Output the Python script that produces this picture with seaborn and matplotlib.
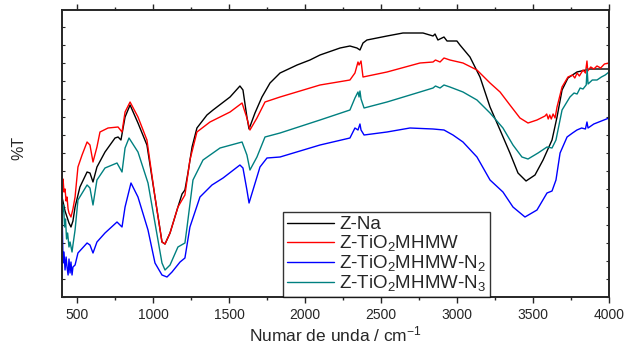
import matplotlib
matplotlib.use("Agg")
import matplotlib.pyplot as plt
from matplotlib.ticker import MultipleLocator
import numpy as np
import pandas as pd
import seaborn as sns

# FTIR spectra, wavenumber (cm-1) and transmittance (arbitrary units, offset stack)
zna_wn = [400, 420, 446, 459, 472, 486, 518, 565, 584, 604, 630, 683, 749, 769, 788,
          815, 848, 900, 959, 1012, 1058, 1078, 1111, 1163, 1190, 1209, 1230, 1256, 1288,
          1354, 1394, 1506, 1571, 1591, 1617, 1631, 1670, 1716, 1769, 1835, 1947, 2032,
          2098, 2230, 2295, 2341, 2361, 2381, 2407, 2539, 2644, 2776, 2842, 2855, 2874,
          2914, 2934, 2999, 3019, 3085, 3151, 3217, 3283, 3348, 3401, 3454, 3513, 3566,
          3625, 3658, 3691, 3730, 3789, 3875, 4000]
zna_t = [100, 86, 74, 70, 76, 90, 110, 125, 124, 115, 130, 145, 159, 160, 157,
         180, 192, 174, 152, 100, 55, 53, 64, 90, 103, 107, 125, 150, 169,
         182, 187, 200, 211, 207, 180, 168, 184, 200, 214, 224, 232, 237,
         242, 249, 251, 249, 247, 254, 257, 261, 264, 264, 261, 263, 257,
         260, 256, 256, 252, 240, 220, 190, 167, 144, 124, 116, 122, 137,
         157, 180, 207, 219, 225, 228, 228]

mhmw_wn = [400, 402, 407, 413, 420, 427, 433, 440, 446, 459, 472, 486, 505, 532, 565,
           584, 604, 630, 650, 703, 769, 795, 815, 848, 900, 959, 1012, 1058, 1078,
           1111, 1163, 1209, 1242, 1288, 1374, 1506, 1585, 1617, 1637, 1683, 1736,
           1835, 2098, 2295, 2328, 2348, 2355, 2368, 2381, 2539, 2756, 2842, 2858,
           2888, 2914, 2953, 3039, 3131, 3217, 3283, 3348, 3414, 3467, 3526, 3579,
           3590, 3600, 3610, 3620, 3632, 3645, 3658, 3691, 3730, 3760, 3775, 3790,
           3805, 3829, 3845, 3855, 3860, 3880, 3900, 3921, 3945, 3970, 4000]
mhmw_t = [159, 114, 118, 105, 108, 96, 100, 88, 84, 80, 88, 100, 130, 142, 155,
          152, 135, 150, 165, 169, 170, 165, 185, 195, 180, 157, 100, 55, 53,
          64, 90, 102, 137, 165, 175, 185, 194, 179, 167, 179, 195,
          200, 212, 217, 224, 235, 232, 236, 220, 225, 234, 235, 237,
          235, 239, 237, 234, 227, 214, 205, 192, 179, 174, 177, 181,
          183, 178, 182, 178, 183, 179, 190, 210, 220, 222, 219, 224,
          221, 227, 224, 236, 226, 230, 228, 231, 229, 233, 234]

n2_wn = [400, 407, 413, 420, 427, 433, 440, 446, 453, 459, 466, 472, 486, 505, 565,
         584, 604, 630, 683, 762, 795, 815, 854, 900, 966, 1012, 1058, 1091, 1124,
         1177, 1209, 1242, 1308, 1387, 1460, 1571, 1591, 1617, 1631, 1657, 1703,
         1749, 1835, 2098, 2295, 2328, 2348, 2361, 2368, 2388, 2539, 2690, 2842,
         2914, 2973, 3039, 3131, 3217, 3302, 3368, 3447, 3526, 3592, 3625, 3651,
         3678, 3724, 3760, 3789, 3820, 3845, 3855, 3862, 3900, 3950, 4000]
n2_t = [89, 34, 45, 27, 40, 30, 22, 38, 24, 35, 22, 30, 32, 44, 54,
        52, 44, 55, 64, 75, 70, 90, 114, 100, 67, 34, 22, 20, 25,
        35, 39, 70, 100, 112, 119, 132, 129, 107, 94, 107, 130,
        139, 140, 152, 159, 169, 167, 173, 167, 162, 165, 169, 168,
        167, 162, 155, 140, 117, 105, 90, 80, 87, 104, 106, 117,
        144, 160, 164, 167, 169, 168, 175, 169, 173, 176, 179]

n3_wn = [400, 403, 410, 417, 423, 430, 437, 446, 453, 466, 472, 486, 505, 565, 584,
         604, 630, 683, 762, 795, 815, 841, 900, 966, 1012, 1058, 1078, 1111, 1163,
         1209, 1223, 1262, 1328, 1440, 1585, 1617, 1637, 1683, 1736, 1835, 2098,
         2295, 2328, 2348, 2355, 2361, 2368, 2388, 2539, 2756, 2842, 2858, 2888,
         2914, 2953, 3039, 3131, 3217, 3302, 3368, 3427, 3467, 3533, 3592, 3625,
         3651, 3691, 3743, 3770, 3790, 3810, 3829, 3850, 3856, 3862, 3890, 3921,
         3950, 3975, 4000]
n3_t = [120, 85, 92, 70, 78, 58, 64, 50, 55, 45, 52, 67, 97, 112, 109,
        92, 117, 129, 134, 125, 149, 159, 145, 114, 74, 34, 27, 32, 50,
        54, 70, 117, 137, 149, 155, 142, 127, 140, 160, 164, 177,
        187, 199, 205, 200, 206, 198, 189, 195, 205, 209, 211, 209,
        212, 210, 205, 197, 184, 169, 152, 140, 138, 144, 150, 149,
        157, 187, 200, 204, 203, 209, 208, 212, 228, 213, 217, 217,
        220, 222, 225]

labels = ["Z-Na", "Z-TiO$_2$MHMW", "Z-TiO$_2$MHMW-N$_2$", "Z-TiO$_2$MHMW-N$_3$"]
colors = ["#000000", "#ff0000", "#0000ff", "#008080"]

frames = []
for name, wn, t in zip(labels, [zna_wn, mhmw_wn, n2_wn, n3_wn], [zna_t, mhmw_t, n2_t, n3_t]):
    frames.append(pd.DataFrame({"wn": wn, "T": t, "sample": name}))
df = pd.concat(frames, ignore_index=True)

sns.set_style("ticks")
plt.rcParams["font.family"] = ["Liberation Sans", "DejaVu Sans"]
plt.rcParams["mathtext.fontset"] = "custom"
plt.rcParams["mathtext.rm"] = "Liberation Sans"
plt.rcParams["mathtext.it"] = "Liberation Sans"
plt.rcParams["mathtext.default"] = "regular"

W, H = 627, 345
fig = plt.figure(figsize=(W / 100, H / 100), dpi=100)
ax = fig.add_axes([62 / W, 1 - 297 / H, 547 / W, 287 / H])

sns.lineplot(data=df, x="wn", y="T", hue="sample", hue_order=labels,
             palette=colors, estimator=None, sort=False, linewidth=1.0, ax=ax)

ax.set_xlim(400, 4000)
ax.set_ylim(0, 287)
ax.xaxis.set_minor_locator(MultipleLocator(250))
ax.yaxis.set_major_locator(MultipleLocator(36))
ax.yaxis.set_minor_locator(MultipleLocator(18))
ax.set_xticks([500, 1000, 1500, 2000, 2500, 3000, 3500, 4000])
ax.tick_params(axis="x", which="major", direction="out", length=4, width=1,
               labelsize=10, pad=4, top=True)
ax.tick_params(axis="x", which="minor", direction="out", length=2.5, width=1, top=True)
ax.tick_params(axis="y", which="both", direction="in", length=2.5, width=0.8,
               labelleft=False, right=True)
for s in ax.spines.values():
    s.set_linewidth(1.4)

ax.set_xlabel("Numar de unda / cm$^{-1}$", fontsize=12.5)
ax.set_ylabel("%T", fontsize=11.5)
ax.xaxis.set_label_coords(0.5, -0.097)
ax.yaxis.set_label_coords(-36 / 547, 0.52)

handles, labs = ax.get_legend_handles_labels()
leg = ax.legend(handles, labs, loc="lower left", bbox_to_anchor=(0.404, 0.0),
                borderaxespad=0, frameon=True, fancybox=False, fontsize=13.5,
                handlelength=2.5, handletextpad=0.3, labelspacing=0.0,
                borderpad=0.2)
leg.get_frame().set_edgecolor("black")
leg.get_frame().set_linewidth(1.0)
for line in leg.get_lines():
    line.set_linewidth(1.0)

fig.savefig("out.png", dpi=100, facecolor="white")
